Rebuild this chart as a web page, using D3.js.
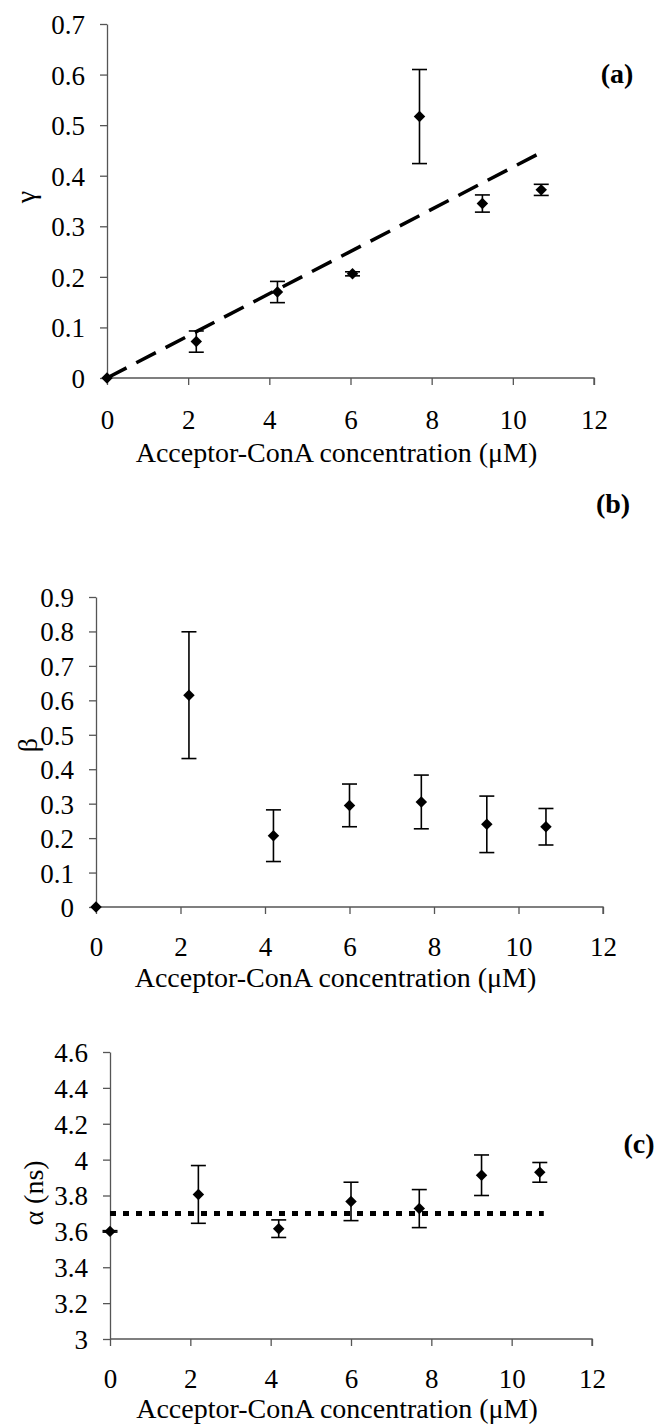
<!DOCTYPE html>
<html>
<head>
<meta charset="UTF-8">
<script src="https://d3js.org/d3.v7.min.js"></script>
<style>
  body { margin: 0; background: #fff; }
  svg { display: block; }
  text { font-family: "Liberation Serif", "Times New Roman", serif; fill: #000; }
  .tick text { font-size: 27px; }
  .axis path, .axis line { stroke: #555; stroke-width: 1.3; }
</style>
</head>
<body>
<svg id="fig" width="657" height="1426"></svg>
<script>
// concentration (uM) for each panel
const gammaX = [0, 2.2, 4.2, 6.05, 7.7, 9.25, 10.7];
const gammaY = [0, 0.072, 0.170, 0.206, 0.517, 0.345, 0.372];
const gammaErr = [0, 0.021, 0.021, 0.004, 0.093, 0.017, 0.011];
const fitX = [0, 10.65];
const fitY = [0, 0.444];

const betaX = [0, 2.2, 4.2, 6.0, 7.7, 9.25, 10.65];
const betaY = [0, 0.615, 0.207, 0.295, 0.305, 0.240, 0.233];
const betaErr = [0, 0.184, 0.075, 0.062, 0.078, 0.082, 0.053];

const alphaX = [0, 2.2, 4.2, 6.0, 7.7, 9.25, 10.7];
const alphaY = [3.6, 3.806, 3.615, 3.767, 3.727, 3.913, 3.929];
const alphaErr = [0.004, 0.161, 0.049, 0.107, 0.106, 0.113, 0.055];
const meanX = [0, 10.8];
const meanY = [3.7, 3.7];

const xTicks = [0, 2, 4, 6, 8, 10, 12];
const gammaTicks = [0, 0.1, 0.2, 0.3, 0.4, 0.5, 0.6, 0.7];
const betaTicks = [0, 0.1, 0.2, 0.3, 0.4, 0.5, 0.6, 0.7, 0.8, 0.9];
const alphaTicks = [3, 3.2, 3.4, 3.6, 3.8, 4, 4.2, 4.4, 4.6];

const xTitle = "Acceptor-ConA concentration (\u03bcM)";

const svg = d3.select("#fig");

function panel(p) {
  const x = d3.scaleLinear().domain([0, 12]).range([p.left, p.right]);
  const y = d3.scaleLinear().domain(p.ydomain).range([p.bottom, p.top]);
  const g = svg.append("g");

  const yAxis = g.append("g").attr("class", "axis")
    .attr("transform", `translate(${p.left},0)`)
    .call(d3.axisLeft(y).tickValues(p.yticks).tickFormat(d3.format("~g"))
      .tickSizeInner(7).tickSizeOuter(0).tickPadding(15));
  yAxis.selectAll(".tick text").attr("dy", "0.35em");

  const xAxis = g.append("g").attr("class", "axis")
    .attr("transform", `translate(0,${p.bottom})`)
    .call(d3.axisBottom(x).tickValues(xTicks).tickFormat(d3.format("d"))
      .tickSizeInner(7).tickSizeOuter(0).tickPadding(p.xpad));
  xAxis.selectAll(".domain").attr("d", `M${p.left},0H${p.right}V7`);

  g.append("text")
    .attr("x", (p.left + p.right) / 2 - 14)
    .attr("y", p.bottom + p.titleOff)
    .attr("text-anchor", "middle")
    .style("font-size", "28px")
    .text(xTitle);

  g.append("text")
    .attr("transform", `translate(${p.ylabX},${p.ylabY}) rotate(-90)`)
    .attr("text-anchor", "middle")
    .attr("dy", "0.35em")
    .style("font-size", "28px")
    .text(p.ylabel);

  g.append("text")
    .attr("x", p.tagX).attr("y", p.tagY)
    .attr("text-anchor", "middle").attr("dy", "0.35em")
    .style("font-size", "28px").style("font-weight", "bold")
    .text(p.tag);

  if (p.line) {
    g.append("path")
      .datum(p.line.xs.map((v, i) => [v, p.line.ys[i]]))
      .attr("fill", "none")
      .attr("stroke", "#000")
      .attr("stroke-width", p.line.width)
      .attr("stroke-dasharray", p.line.dash)
      .attr("d", d3.line().x(d => x(d[0])).y(d => y(d[1])));
  }

  const pts = p.xs.map((v, i) => ({ x: v, y: p.ys[i], e: p.errs[i] }));
  const bars = g.append("g").attr("stroke", "#000").attr("stroke-width", 1.6);
  pts.filter(d => d.e > 0).forEach(d => {
    const cx = x(d.x), y1 = y(d.y + d.e), y0 = y(d.y - d.e);
    bars.append("line").attr("x1", cx).attr("x2", cx).attr("y1", y1).attr("y2", y0);
    bars.append("line").attr("x1", cx - 7.5).attr("x2", cx + 7.5).attr("y1", y1).attr("y2", y1);
    bars.append("line").attr("x1", cx - 7.5).attr("x2", cx + 7.5).attr("y1", y0).attr("y2", y0);
  });

  g.append("g").selectAll("path")
    .data(pts).join("path")
    .attr("d", d3.symbol(d3.symbolDiamond2, 84))
    .attr("transform", d => `translate(${x(d.x)},${y(d.y)})`)
    .attr("fill", "#000");
}

panel({
  left: 107, right: 594, top: 24, bottom: 378, ydomain: [0, 0.7], yticks: gammaTicks,
  xs: gammaX, ys: gammaY, errs: gammaErr, xpad: 25, titleOff: 84,
  ylabel: "\u03b3", ylabX: 25, ylabY: 197, tag: "(a)", tagX: 617, tagY: 73,
  line: { xs: fitX, ys: fitY, width: 3.5, dash: "22,11" }
});

panel({
  left: 96, right: 603, top: 597, bottom: 907, ydomain: [0, 0.9], yticks: betaTicks,
  xs: betaX, ys: betaY, errs: betaErr, xpad: 23, titleOff: 80,
  ylabel: "\u03b2", ylabX: 27, ylabY: 745, tag: "(b)", tagX: 613, tagY: 503
});

panel({
  left: 110, right: 592, top: 1052, bottom: 1339, ydomain: [3, 4.6], yticks: alphaTicks,
  xs: alphaX, ys: alphaY, errs: alphaErr, xpad: 23, titleOff: 79,
  ylabel: "\u03b1 (ns)", ylabX: 33, ylabY: 1193, tag: "(c)", tagX: 639, tagY: 1143,
  line: { xs: meanX, ys: meanY, width: 5, dash: "6,7" }
});
</script>
</body>
</html>
